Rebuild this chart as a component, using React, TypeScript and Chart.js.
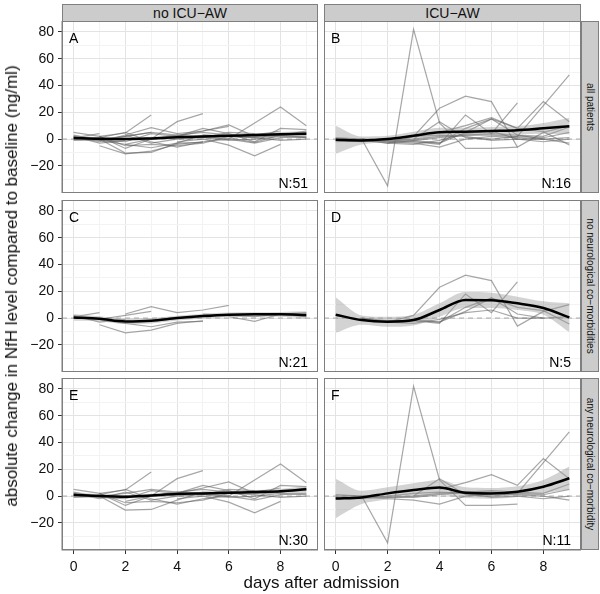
import React, { useEffect, useRef } from "react";
import { Chart, registerables } from "chart.js";
Chart.register(...registerables);

// ---------- data ----------
const DAYS = [0, 1, 2, 3, 4, 5, 6, 7, 8, 9];
const X_MAJOR = [0, 2, 4, 6, 8];
const X_MINOR = [1, 3, 5, 7, 9];
const Y_MAJOR = [-20, 0, 20, 40, 60, 80];
const Y_MINOR = [-30, -10, 10, 30, 50, 70];
const X_RANGE = [-0.45, 9.45];
const Y_RANGE = [-40.3, 88.2];

const COL_LABELS = ["no ICU\u2212AW", "ICU\u2212AW"];
const ROW_LABELS = ["all patients", "no neurological co\u2212morbidities", "any neurological co\u2212morbidity"];
const PANEL_LETTERS = ["A", "B", "C", "D", "E", "F"];
const PANEL_N = [51, 16, 21, 5, 30, 11];
const X_TITLE = "days after admission";
const Y_TITLE = "absolute change in NfH level compared to baseline (ng/ml)";

type V = number | null;
const _ = null;

// no ICU-AW, no neurological co-morbidities (C)
const C_P1: V[] = [1, 4, _, _, _, _, _, _, _, _];
const C_P2: V[] = [_, -5, -11, -9, -4, -2, _, _, _, _];
const C_P3: V[] = [_, _, 3, 8.5, 4, 6, 9.5, _, _, _];
const C_P4: V[] = [0, -1, -4, -6.5, -3, -2.5, _, _, _, _];
const C_P5: V[] = [_, -1, 2, 5, _, _, _, _, _, _];
const C_P6: V[] = [_, _, _, _, _, _, 1, -2.5, 3, 1];
const C_P7: V[] = [_, _, _, _, _, 3, 2, 1, 3, 4];
const C_P8: V[] = [2, -3, -1, _, _, _, _, _, _, _];

// no ICU-AW, any neurological co-morbidity (E)
const E_P1: V[] = [_, 2, 4.5, 18, _, _, _, _, _, _];
const E_P2: V[] = [_, _, -4, 0, 13, 19, _, _, _, _];
const E_P3: V[] = [_, _, _, _, _, 2, 0, 12, 24, 10];
const E_P4: V[] = [_, _, _, _, -2, 0, -4.5, -12.5, -4, _];
const E_P5: V[] = [_, _, _, _, 2, 6, 10.5, 2, 3, 5];
const E_P6: V[] = [1, 0, -10.5, -10, -3, 3, 2, 1, -1, 0];
const E_P7: V[] = [5, 2, -7, 0, 3, 5, 3, 2, 3, 6];
const E_P8: V[] = [0, 1, 5, -2, -6, -2, 0, -3, 1, 2];
const E_P9: V[] = [3, -1, -2, 4, 2, 8, 4, -2, 8, 7];
const E_P10: V[] = [_, 2, -5, -4, -5, -3, 2, 3, 6, _];
const E_P11: V[] = [-1, 0, 2, 5, 3, 1, -1, 0, 2, 1];
const E_P12: V[] = [2, -2, 3, -3, 0, 1, 5, 4, _, _];

// ICU-AW, no neurological co-morbidities (D)
const D_P1: V[] = [_, 0, -3, 2, 23, 32, 28, -6, 5, 10];
const D_P2: V[] = [_, _, -2, -2, -4, 18, 4, 27, _, _];
const D_P3: V[] = [_, _, -3, -1, -3, 8, 15, 8, 5.5, -4.5];
const D_P4: V[] = [_, 0, -2, -2, -3, 5, 15, 3, 0, _];
const D_P5: V[] = [_, -1, -3, -4, -1, 4, 6, 0, 0, 1];

// ICU-AW, any neurological co-morbidity (F)
const F_P1: V[] = [_, 0, -35, 82, 12, -7, -7, -6, _, _];
const F_P2: V[] = [_, _, _, _, 5, 10, 16, 8, 28, 13];
const F_P3: V[] = [0, 0, -1, 0, 2, 3, 3, 2, 25, 48];
const F_P4: V[] = [-2, -1, -2, -3, -6, 0, 2, 1, 0, -3];
const F_P5: V[] = [1, 0, -1, -1, 1, 3, 4, 3, 2, 9];
const F_P6: V[] = [_, _, _, 0, 13, 1, 0, 2, 1, 5];
const F_P7: V[] = [-1, -2, 0, 2, 3, 2, -1, 0, -2, 0];

const LINES_C = [C_P1, C_P2, C_P3, C_P4, C_P5, C_P6, C_P7, C_P8];
const LINES_E = [E_P1, E_P2, E_P3, E_P4, E_P5, E_P6, E_P7, E_P8, E_P9, E_P10, E_P11, E_P12];
const LINES_D = [D_P1, D_P2, D_P3, D_P4, D_P5];
const LINES_F = [F_P1, F_P2, F_P3, F_P4, F_P5, F_P6, F_P7];

// smoothed fits and confidence bands
const SMOOTH_A: V[] = [0.8, 0.2, 0, 0.5, 1.3, 2, 2.5, 3, 3.5, 4];
const LOWER_A: V[] = [-1.5, -1, -1.2, -0.7, 0.2, 0.9, 1.3, 1.7, 1.8, 1.8];
const UPPER_A: V[] = [3.1, 1.4, 1.2, 1.7, 2.4, 3.1, 3.7, 4.3, 5.2, 6.2];
const SMOOTH_B: V[] = [-0.5, -1, 0, 2.5, 5, 5.5, 6, 6.5, 8, 9.5];
const LOWER_B: V[] = [-11, -4, -2.5, -0.5, 1.5, 2.5, 3, 3.5, 4, 3.5];
const UPPER_B: V[] = [10, 2, 2.5, 5.5, 8.5, 8.5, 9, 9.5, 12, 16];
const SMOOTH_C: V[] = [0.5, -0.5, -2.5, -2, 0, 1.5, 2.5, 2.8, 2.8, 2.3];
const LOWER_C: V[] = [-2, -2.3, -4.5, -4, -1.8, -0.3, 0.8, 1.2, 1, -0.5];
const UPPER_C: V[] = [3, 1.3, -0.5, 0, 1.8, 3.3, 4.2, 4.4, 4.6, 5];
const SMOOTH_D: V[] = [2.5, -1.5, -2.7, -1.5, 6, 13.5, 13.3, 11, 7.5, 0.5];
const LOWER_D: V[] = [-11, -5, -6.5, -5.5, 1, 7.5, 7.5, 6, 2.5, -10.5];
const UPPER_D: V[] = [15.5, 2, 1, 2.5, 11, 19.5, 19, 16, 12.5, 11];
const SMOOTH_E: V[] = [1, 0, -0.5, 0.5, 1.5, 2, 2.5, 3, 3.5, 5];
const LOWER_E: V[] = [-1, -1.2, -1.7, -0.7, 0.3, 0.8, 1.3, 1.5, 1.7, 2.5];
const UPPER_E: V[] = [3, 1.2, 0.7, 1.7, 2.7, 3.2, 3.7, 4.5, 5.3, 7.5];
const SMOOTH_F: V[] = [-1.8, -1, 2, 4.5, 6.3, 2.5, 2, 3.3, 7, 13.3];
const LOWER_F: V[] = [-16.5, -6, -2.5, -0.5, 0.8, -1.5, -2, -0.7, 2, 5];
const UPPER_F: V[] = [13, 4, 6.5, 9.5, 12, 6.5, 6, 7.3, 12, 22];

const PANELS = [
  { lines: [...LINES_C, ...LINES_E], smooth: SMOOTH_A, lower: LOWER_A, upper: UPPER_A },
  { lines: [...LINES_D, ...LINES_F], smooth: SMOOTH_B, lower: LOWER_B, upper: UPPER_B },
  { lines: LINES_C, smooth: SMOOTH_C, lower: LOWER_C, upper: UPPER_C },
  { lines: LINES_D, smooth: SMOOTH_D, lower: LOWER_D, upper: UPPER_D },
  { lines: LINES_E, smooth: SMOOTH_E, lower: LOWER_E, upper: UPPER_E },
  { lines: LINES_F, smooth: SMOOTH_F, lower: LOWER_F, upper: UPPER_F },
];

// ---------- layout / style ----------
const FONT = "'Liberation Sans', Arial, Helvetica, sans-serif";
const COL_LEFT = [62, 324];
const PLOT_W = [256, 257];
const ROW_TOP = [21, 200, 378];
const PLOT_H = 172;
const Y_AXIS_W = 62;
const X_AXIS_H = 32;
const MAJOR_GRID = "#e3e3e3";
const MINOR_GRID = "#f3f3f3";
const STRIP_BG = "#cccccc";
const FRAME = "#7f7f7f";

const fmt = (v: number) => (v < 0 ? "\u2212" + Math.abs(v) : String(v));
const toPts = (arr: V[]) =>
  DAYS.map((d, i) => (arr[i] == null ? null : { x: d, y: arr[i] as number })).filter(Boolean) as { x: number; y: number }[];

const decor = {
  id: "decor",
  beforeDatasetsDraw(chart: any) {
    const { ctx, chartArea: a, scales } = chart;
    const py = scales.y.getPixelForValue(0);
    ctx.save();
    ctx.strokeStyle = "#a8a8a8";
    ctx.lineWidth = 1;
    ctx.setLineDash([5, 4]);
    ctx.beginPath();
    ctx.moveTo(a.left, py);
    ctx.lineTo(a.right, py);
    ctx.stroke();
    ctx.restore();
  },
  afterDraw(chart: any, _args: any, opts: any) {
    const { ctx, chartArea: a } = chart;
    ctx.save();
    ctx.strokeStyle = FRAME;
    ctx.lineWidth = 1.5;
    ctx.strokeRect(a.left + 0.25, a.top + 0.25, a.right - a.left - 0.5, a.bottom - a.top - 0.5);
    ctx.fillStyle = "#000";
    ctx.font = `14px ${FONT}`;
    ctx.textBaseline = "alphabetic";
    ctx.textAlign = "left";
    ctx.fillText(opts.letter, a.left + 7, a.top + 22);
    ctx.textAlign = "right";
    ctx.fillText("N:" + opts.n, a.right - 10, a.bottom - 5.5);
    ctx.restore();
  },
};

function Panel({ idx }: { idx: number }) {
  const ref = useRef<HTMLCanvasElement>(null);
  const r = Math.floor(idx / 2);
  const c = idx % 2;
  const showY = c === 0;
  const showX = r === 2;
  const left = c === 0 ? 0 : COL_LEFT[1];
  const width = (showY ? Y_AXIS_W : 0) + PLOT_W[c];
  const top = ROW_TOP[r];
  const height = PLOT_H + (showX ? X_AXIS_H : 0);

  useEffect(() => {
    const p = PANELS[idx];
    const lineDs = p.lines.map((l) => ({
      data: toPts(l),
      borderColor: "rgba(95,95,95,0.55)",
      borderWidth: 1.2,
      pointRadius: 0,
      fill: false,
      tension: 0,
    }));
    const chart = new Chart(ref.current!, {
      type: "line",
      data: {
        datasets: [
          {
            data: toPts(p.smooth),
            borderColor: "#000",
            borderWidth: 2.5,
            pointRadius: 0,
            fill: false,
            cubicInterpolationMode: "monotone",
          },
          {
            data: toPts(p.upper),
            borderColor: "rgba(0,0,0,0)",
            borderWidth: 0,
            backgroundColor: "rgba(150,150,150,0.42)",
            pointRadius: 0,
            fill: "+1",
            cubicInterpolationMode: "monotone",
          },
          {
            data: toPts(p.lower),
            borderColor: "rgba(0,0,0,0)",
            borderWidth: 0,
            pointRadius: 0,
            fill: false,
            cubicInterpolationMode: "monotone",
          },
          ...lineDs,
        ] as any,
      },
      options: {
        responsive: false,
        animation: false,
        devicePixelRatio: 1,
        events: [],
        layout: { padding: 0 },
        plugins: {
          legend: { display: false },
          tooltip: { enabled: false },
          decor: { letter: PANEL_LETTERS[idx], n: PANEL_N[idx] },
        } as any,
        scales: {
          x: {
            type: "linear",
            min: X_RANGE[0],
            max: X_RANGE[1],
            afterBuildTicks: (s: any) => {
              s.ticks = [...X_MAJOR, ...X_MINOR].sort((a, b) => a - b).map((v) => ({ value: v }));
            },
            afterFit: (s: any) => {
              s.height = showX ? X_AXIS_H : 0;
              s.paddingLeft = 0;
              s.paddingRight = 0;
              s.paddingTop = 0;
              s.paddingBottom = 0;
            },
            border: { display: false },
            grid: {
              color: (ctx: any) => (X_MAJOR.includes(ctx.tick?.value) ? MAJOR_GRID : MINOR_GRID),
              lineWidth: 1,
              drawTicks: showX,
              tickLength: 4,
              tickColor: (ctx: any) => (X_MAJOR.includes(ctx.tick?.value) ? "#333" : "rgba(0,0,0,0)"),
            },
            ticks: {
              display: showX,
              autoSkip: false,
              maxRotation: 0,
              padding: 5,
              color: "#111",
              font: { family: FONT, size: 14 },
              callback: (v: any) => (X_MAJOR.includes(v) ? fmt(v) : ""),
            },
          },
          y: {
            type: "linear",
            min: Y_RANGE[0],
            max: Y_RANGE[1],
            afterBuildTicks: (s: any) => {
              s.ticks = [...Y_MAJOR, ...Y_MINOR].sort((a, b) => a - b).map((v) => ({ value: v }));
            },
            afterFit: (s: any) => {
              s.width = showY ? Y_AXIS_W : 0;
              s.paddingLeft = 0;
              s.paddingRight = 0;
              s.paddingTop = 0;
              s.paddingBottom = 0;
            },
            border: { display: false },
            grid: {
              color: (ctx: any) => (Y_MAJOR.includes(ctx.tick?.value) ? MAJOR_GRID : MINOR_GRID),
              lineWidth: 1,
              drawTicks: showY,
              tickLength: 4,
              tickColor: (ctx: any) => (Y_MAJOR.includes(ctx.tick?.value) ? "#333" : "rgba(0,0,0,0)"),
            },
            ticks: {
              display: showY,
              autoSkip: false,
              padding: 4,
              color: "#111",
              font: { family: FONT, size: 14 },
              callback: (v: any) => (Y_MAJOR.includes(v) ? fmt(v) : ""),
            },
          },
        },
      } as any,
      plugins: [decor as any],
    });
    return () => chart.destroy();
  }, [idx]);

  return (
    <canvas
      ref={ref}
      width={width}
      height={height}
      style={{ position: "absolute", left, top, width, height }}
    />
  );
}

const stripStyle: React.CSSProperties = {
  position: "absolute",
  boxSizing: "border-box",
  background: STRIP_BG,
  border: `1px solid ${FRAME}`,
  color: "#111",
  fontFamily: FONT,
  overflow: "hidden",
};

export default function App() {
  return (
    <div
      style={{
        position: "absolute",
        left: 0,
        top: 0,
        width: 600,
        height: 594,
        background: "#fff",
        fontFamily: FONT,
        overflow: "hidden",
      }}
    >
      {[0, 1, 2, 3, 4, 5].map((i) => (
        <Panel key={i} idx={i} />
      ))}
      {COL_LABELS.map((lab, c) => (
        <div
          key={lab}
          style={{
            ...stripStyle,
            left: COL_LEFT[c],
            top: 4,
            width: PLOT_W[c],
            height: 18,
            fontSize: 14,
            lineHeight: "16px",
            textAlign: "center",
          }}
        >
          {lab}
        </div>
      ))}
      {ROW_LABELS.map((lab, r) => (
        <div
          key={lab}
          style={{
            ...stripStyle,
            left: 581,
            top: ROW_TOP[r],
            width: 18,
            height: PLOT_H,
          }}
        >
          <div
            style={{
              position: "absolute",
              left: "50%",
              top: "50%",
              transform: "translate(-50%, -50%) rotate(90deg)",
              whiteSpace: "nowrap",
              fontSize: 10,
              lineHeight: "12px",
            }}
          >
            {lab}
          </div>
        </div>
      ))}
      <div
        style={{
          position: "absolute",
          left: 321.5,
          top: 583,
          transform: "translate(-50%, -50%)",
          whiteSpace: "nowrap",
          fontSize: 17,
          color: "#111",
        }}
      >
        {X_TITLE}
      </div>
      <div
        style={{
          position: "absolute",
          left: 12,
          top: 285.5,
          transform: "translate(-50%, -50%) rotate(-90deg)",
          whiteSpace: "nowrap",
          fontSize: 17,
          color: "#111",
        }}
      >
        {Y_TITLE}
      </div>
    </div>
  );
}
